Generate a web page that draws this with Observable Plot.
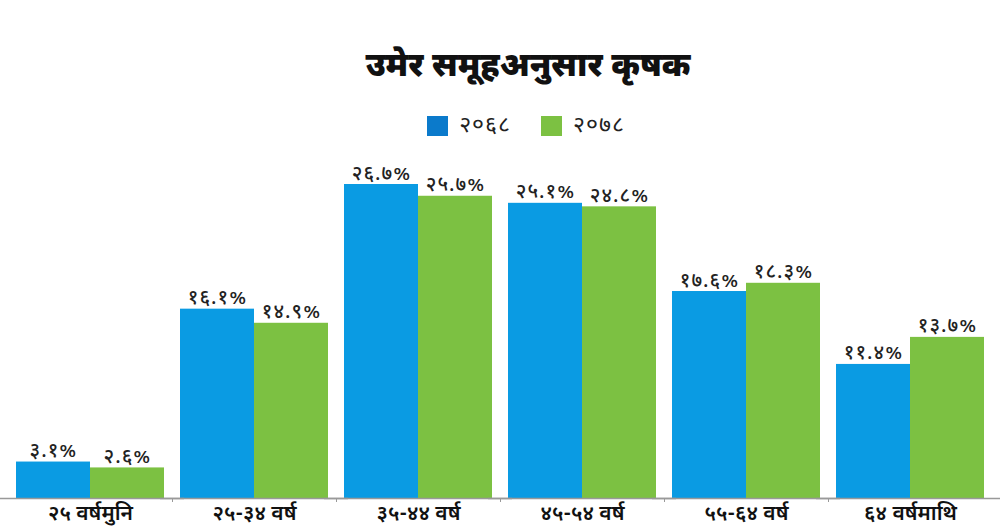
<!DOCTYPE html>
<html>
<head>
<meta charset="utf-8">
<script src="https://cdn.jsdelivr.net/npm/d3@7"></script>
<script src="https://cdn.jsdelivr.net/npm/@observablehq/plot@0.6"></script>
<style>
  body { margin: 0; background: #fff; font-family: "Noto Sans Devanagari", "Lohit Devanagari", "Noto Sans", sans-serif; }
  #wrap { width: 1000px; height: 528px; overflow: hidden; }
  #head { height: 150px; position: relative; }
  #title { position: absolute; left: 56px; right: 0; top: 48px; text-align: center; font-size: 33px; font-weight: 900; color: #111; line-height: 40px; }
  #legend { position: absolute; left: 52px; right: 0; top: 111px; display: flex; justify-content: center; align-items: center; font-size: 23px; letter-spacing: 1px; color: #222; line-height: 30px; }
  .sw { width: 21px; height: 20px; display: inline-block; margin-right: 11px; }
  .item { display: flex; align-items: center; margin: 0 15px; }
  .vlab { letter-spacing: 1px; }
</style>
</head>
<body>
<div id="wrap">
  <div id="head">
    <div id="title"></div>
    <div id="legend"></div>
  </div>
  <div id="chart"></div>
</div>
<script>
const title = "उमेर समूहअनुसार कृषक";
const categories = ["२५ वर्षमुनि", "२५-३४ वर्ष", "३५-४४ वर्ष", "४५-५४ वर्ष", "५५-६४ वर्ष", "६४ वर्षमाथि"];
const years = ["२०६८", "२०७८"];
const values2068 = [3.1, 16.1, 26.7, 25.1, 17.6, 11.4];
const values2078 = [2.6, 14.9, 25.7, 24.8, 18.3, 13.7];
const colors = ["#0a9be3", "#7cc142"];
const legendColors = ["#0b7acb", "#7cc142"];

const devDigits = "०१२३४५६७८९";
const toDev = s => String(s).replace(/[0-9]/g, d => devDigits[+d]);
const fmt = v => toDev(v.toFixed(1)) + "%";

const data = [];
categories.forEach((c, i) => {
  data.push({cat: c, year: years[0], value: values2068[i]});
  data.push({cat: c, year: years[1], value: values2078[i]});
});

document.getElementById("title").textContent = title;
const legend = document.getElementById("legend");
years.forEach((y, i) => {
  const it = document.createElement("div");
  it.className = "item";
  const sw = document.createElement("span");
  sw.className = "sw";
  sw.style.background = legendColors[i];
  const t = document.createElement("span");
  t.textContent = y;
  it.appendChild(sw); it.appendChild(t);
  legend.appendChild(it);
});

const maxV = d3.max(data, d => d.value);
const chart = Plot.plot({
  width: 1000,
  height: 378,
  marginLeft: 0,
  marginRight: 1,
  marginTop: 34,
  marginBottom: 30,
  style: {fontFamily: '"Noto Sans Devanagari", "Lohit Devanagari", "Noto Sans", sans-serif', background: "#fff"},
  fx: {domain: categories, paddingInner: 0.1, paddingOuter: 0.09, label: null},
  x: {domain: years, padding: 0, axis: null},
  y: {domain: [0, maxV], axis: null},
  color: {domain: years, range: colors},
  marks: [
    Plot.barY(data, {fx: "cat", x: "year", y: "value", fill: "year"}),
    Plot.text(data, {fx: "cat", x: "year", y: "value", text: d => fmt(d.value), dy: -5, lineAnchor: "bottom", fontSize: 20, fontWeight: 500, fill: "#222", className: "vlab"}),
    Plot.ruleY([0], {stroke: "#999", strokeWidth: 1.5, insetLeft: -20, insetRight: -20}),
    Plot.axisFx({anchor: "bottom", ticks: categories.slice(1), tickSize: 4, text: null, dx: -82, stroke: "#999", label: null}),
    Plot.axisFx({anchor: "bottom", tickSize: 0, tickPadding: 7, fontSize: 21, fontWeight: 600, fill: "#111", label: null})
  ]
});
document.getElementById("chart").appendChild(chart);
</script>
</body>
</html>
